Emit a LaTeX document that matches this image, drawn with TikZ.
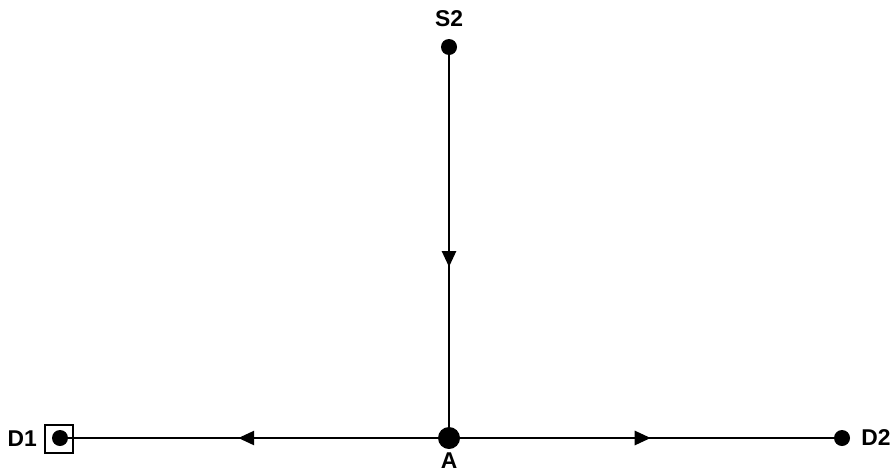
\documentclass[tikz,border=0pt]{standalone}
\usepackage{fontspec}
\setmainfont{Liberation Sans}
\usetikzlibrary{positioning, arrows.meta, decorations.markings}

\begin{document}
\begin{tikzpicture}[x=0.02cm, y=-0.02cm,
  pto/.style={circle, fill=black, inner sep=0pt, minimum size=0.32cm},
  nudo/.style={circle, fill=black, inner sep=0pt, minimum size=0.44cm},
  caja/.style={rectangle, draw=black, line width=1.2pt, inner sep=0pt,
    minimum size=0.56cm},
  etq/.style={font=\fontsize{13}{15}\selectfont\bfseries, inner sep=1pt},
  rama/.style={line width=1.5pt, postaction={decorate},
    decoration={markings, mark=at position #1 with
      {\arrow{Triangle[length=0.32cm, width=0.28cm]}}}}
]
\useasboundingbox (0,0) rectangle (895,474);

%% ── Nodos ────────────────────────────────────────────────────────────
\node[pto]  (S2) at (449, 47) {};
\node[nudo] (A)  at (449,438) {};
\node[pto]  (D1) at ( 60,438) {};
\node[pto]  (D2) at (842,438) {};
\node[caja] (B1) at ( 59,439) {};

%% ── Etiquetas ────────────────────────────────────────────────────────
\node[etq, above=0.2cm of S2]  (lS2) {S2};
\node[etq, below=0.02cm of A]  (lA)  {A};
\node[etq, left=0.1cm of B1]   (lD1) {D1};
\node[etq, right=0.18cm of D2] (lD2) {D2};

%% ── Ramas ────────────────────────────────────────────────────────────
\draw[rama=0.57] (S2) -- (A);
\draw[rama=0.54] (A) -- (D1);
\draw[rama=0.51] (A) -- (D2);

\end{tikzpicture}
\end{document}
